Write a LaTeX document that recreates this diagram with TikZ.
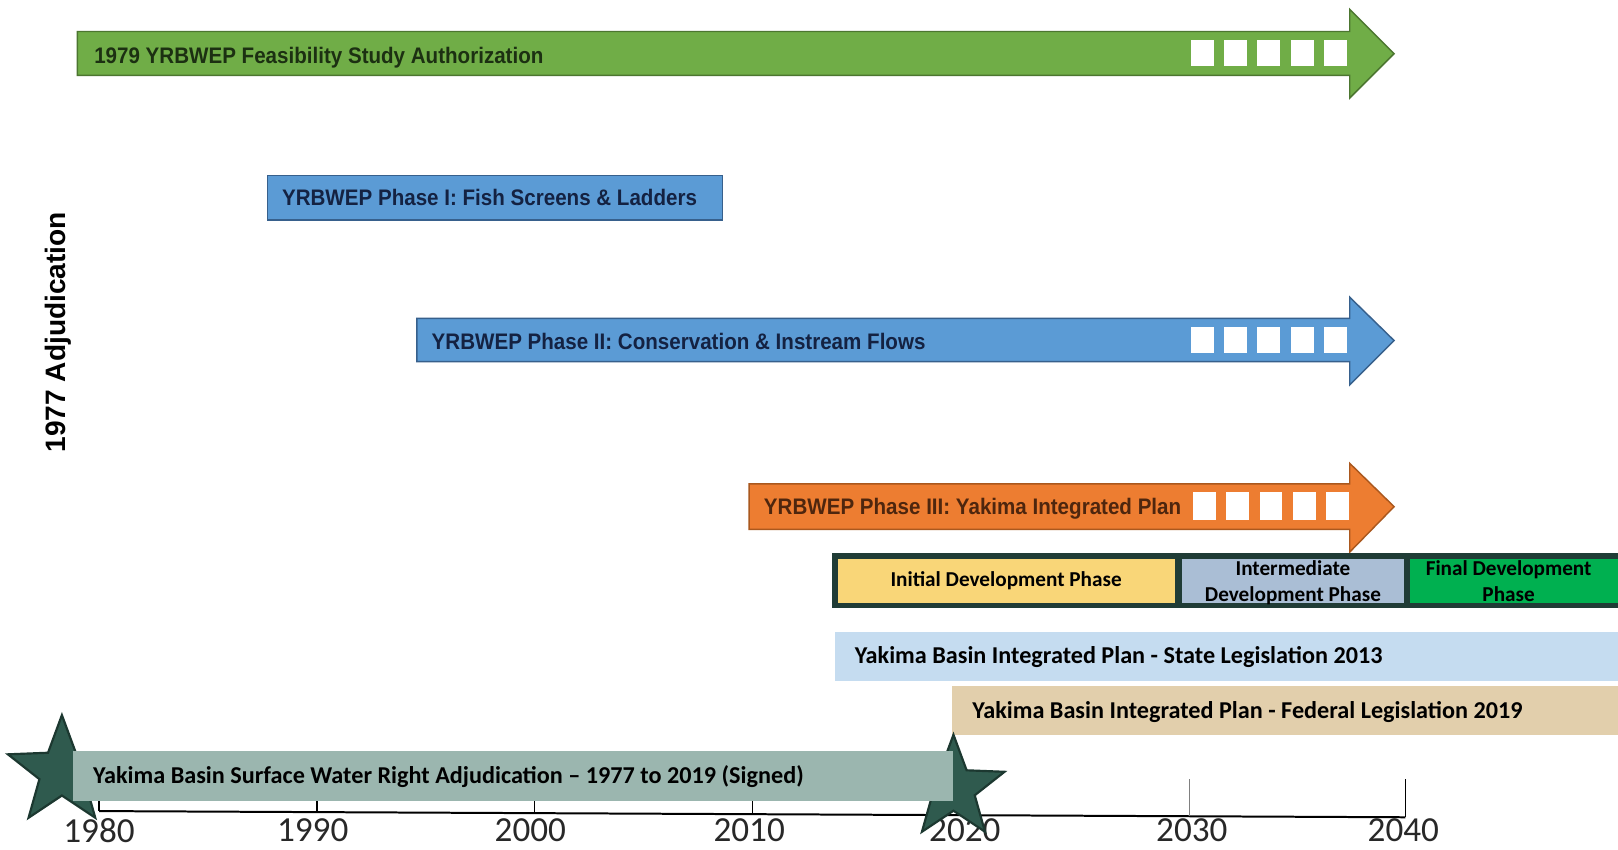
\documentclass[tikz,border=0pt]{standalone}
\usepackage{fontspec}
\setmainfont{Carlito}
\newfontfamily\narrowsans[FakeStretch=0.915]{Liberation Sans}
\newfontfamily\plainsans{Liberation Sans}
\usetikzlibrary{shapes.geometric}
\definecolor{studygreen}{RGB}{112,173,71}
\definecolor{studyedge}{RGB}{76,118,48}
\definecolor{greentext}{RGB}{28,48,18}
\definecolor{phaseblue}{RGB}{91,155,213}
\definecolor{blueedge}{RGB}{55,96,140}
\definecolor{bluetext}{RGB}{20,34,66}
\definecolor{phaseorange}{RGB}{237,125,49}
\definecolor{orangeedge}{RGB}{170,88,30}
\definecolor{orangetext}{RGB}{78,38,14}
\definecolor{framedark}{RGB}{32,60,54}
\definecolor{inityellow}{RGB}{249,214,120}
\definecolor{intergray}{RGB}{170,190,213}
\definecolor{finalgreen}{RGB}{0,176,80}
\definecolor{statebar}{RGB}{197,220,240}
\definecolor{fedbar}{RGB}{226,207,172}
\definecolor{adjbar}{RGB}{155,182,175}
\definecolor{stargreen}{RGB}{47,90,78}
\definecolor{staredge}{RGB}{28,56,48}
\definecolor{yeargray}{RGB}{40,40,40}

\begin{document}
\begin{tikzpicture}[x=0.02cm, y=-0.02cm,
    bartext/.style={anchor=base west, inner sep=0pt,
        font=\narrowsans\bfseries\fontsize{12.4}{14}\selectfont},
    plantext/.style={anchor=base west, inner sep=0pt,
        font=\bfseries\fontsize{13.35}{15}\selectfont},
    phasetext/.style={inner sep=0pt, align=center,
        font=\bfseries\fontsize{11.7}{14.2}\selectfont},
    yeartext/.style={inner sep=0pt, text=yeargray,
        font=\fontsize{19.4}{22}\selectfont},
    adjstar/.style={star, star points=5, star point ratio=2.4,
        inner sep=0pt, fill=stargreen, draw=staredge, line width=1.2pt}]
    \useasboundingbox (0,0) rectangle (1568,823);
    \fill[white] (0,0) rectangle (1568,823);

    \draw[fill=studygreen, draw=studyedge, line width=0.8pt] (75,30.5)
        -- (1308,30.5) -- (1308,9) -- (1351,52) -- (1308,95)
        -- (1308,73) -- (75,73) -- cycle;
    \foreach \sx in {1154,1186.3,1218.6,1250.9,1283.2}
        \fill[white] (\sx,39) rectangle +(22,25);
    \node[bartext, text=greentext] (feas) at (91,61.4)
        {1979 YRBWEP Feasibility Study Authorization};

    \draw[fill=phaseblue, draw=blueedge, line width=0.8pt]
        (259,170) rectangle (700,213);
    \node[bartext, text=bluetext] (ph1) at (273,199)
        {YRBWEP Phase I: Fish Screens \& Ladders};

    \draw[fill=phaseblue, draw=blueedge, line width=0.8pt] (404,308.5)
        -- (1308,308.5) -- (1308,288) -- (1351,330) -- (1308,373)
        -- (1308,350.5) -- (404,350.5) -- cycle;
    \foreach \sx in {1154,1186.3,1218.6,1250.9,1283.2}
        \fill[white] (\sx,317) rectangle +(22,25);
    \node[bartext, text=bluetext] (ph2) at (418,338.5)
        {YRBWEP Phase II: Conservation \& Instream Flows};

    \draw[fill=phaseorange, draw=orangeedge, line width=0.8pt] (726,469)
        -- (1308,469) -- (1308,449) -- (1351,491) -- (1308,535)
        -- (1308,513) -- (726,513) -- cycle;
    \foreach \sx in {1156,1188.3,1220.6,1252.9,1285.2}
        \fill[white] (\sx,477) rectangle +(22,27);
    \node[bartext, text=orangetext] (ph3) at (740,499)
        {YRBWEP Phase III: Yakima Integrated Plan};

    \fill[framedark] (806,536) rectangle (1568,589.5);
    \fill[inityellow] (812,542) rectangle (1139,584);
    \fill[intergray] (1145,542) rectangle (1361,584);
    \fill[finalgreen] (1366,542) rectangle (1568,584);
    \node[phasetext] (initial) at (975,563) {Initial Development Phase};
    \node[phasetext] (inter) at (1253,565) {Intermediate\\Development Phase};
    \node[phasetext] (final) at (1462,563) {Final Development\\Phase};

    \fill[statebar] (809,612) rectangle (1568,659.5);
    \node[plantext] (state) at (828,642.5)
        {Yakima Basin Integrated Plan - State Legislation 2013};
    \fill[fedbar] (923,665) rectangle (1568,712);
    \node[plantext] (federal) at (942,696)
        {Yakima Basin Integrated Plan - Federal Legislation 2019};

    \draw[line width=1.1pt] (96,786) -- (1362,792);
    \draw[line width=0.8pt] (96,770) -- (96,786);
    \draw[line width=0.8pt] (307,770) -- (307,787);
    \draw[line width=0.8pt] (518,770) -- (518,788);
    \draw[line width=0.8pt] (729,770) -- (729,789);
    \draw[line width=0.8pt] (940,770) -- (940,790);
    \draw[line width=0.6pt, gray] (1153,755) -- (1153,791);
    \draw[line width=0.9pt] (1362,755) -- (1362,792);
    \node[yeartext] (y1980) at (96,805) {1980};
    \node[yeartext] (y1990) at (303,805) {1990};
    \node[yeartext] (y2000) at (514,805) {2000};
    \node[yeartext] (y2010) at (726,805) {2010};
    \node[yeartext] (y2020) at (935,805) {2020};
    \node[yeartext] (y2030) at (1155,805) {2030};
    \node[yeartext] (y2040) at (1360,805) {2040};

    \node[adjstar, minimum size=2.2cm] (startstar) at (60,748) {};
    \node[adjstar, minimum size=2.08cm] (endstar) at (924,764) {};
    \fill[adjbar] (71,728) rectangle (924,776);
    \node[plantext] (adjud) at (90,759.5)
        {Yakima Basin Surface Water Right Adjudication -- 1977 to 2019 (Signed)};

    \node[rotate=90, anchor=base, inner sep=0pt,
        font=\plainsans\bfseries\fontsize{15.5}{18}\selectfont] (adjyear) at (63,322)
        {1977 Adjudication};
\end{tikzpicture}
\end{document}
